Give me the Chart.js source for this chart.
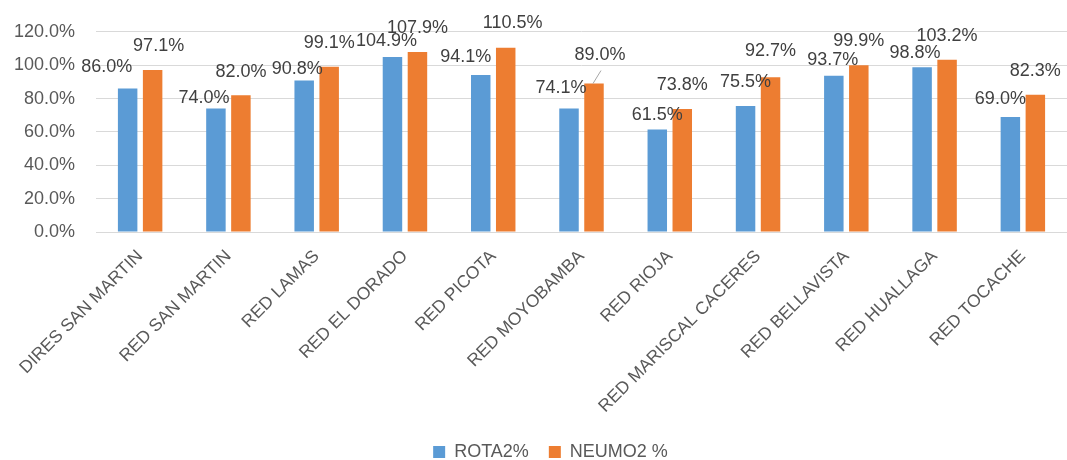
<!DOCTYPE html>
<html>
<head>
<meta charset="utf-8">
<title>ROTA2% / NEUMO2 %</title>
<script src="https://cdn.jsdelivr.net/npm/chart.js@4.4.1/dist/chart.umd.min.js"></script>
<style>
  html, body { margin: 0; padding: 0; background: #fff; }
  #wrap { width: 1067px; height: 460px; position: relative; }
</style>
</head>
<body>
<div id="wrap"><canvas id="chart"></canvas></div>
<script>
// categories and values
const redes = ['DIRES SAN MARTIN', 'RED SAN MARTIN', 'RED LAMAS', 'RED EL DORADO', 'RED PICOTA',
  'RED MOYOBAMBA', 'RED RIOJA', 'RED MARISCAL CACERES', 'RED BELLAVISTA', 'RED HUALLAGA', 'RED TOCACHE'];
const rota2 = [86.0, 74.0, 90.8, 104.9, 94.1, 74.1, 61.5, 75.5, 93.7, 98.8, 69.0];
const neumo2 = [97.1, 82.0, 99.1, 107.9, 110.5, 89.0, 73.8, 92.7, 99.9, 103.2, 82.3];
const yTicks = [0, 20, 40, 60, 80, 100, 120];

// hand-moved data labels (as in the original sheet), px from the default spot
const rotaShift = [[-21, 2], [-12, 13], [-7, 13], [-6, 8], [-15, 6], [-8, 4], [0, 10], [0, 0], [-1, 8], [-7, 10], [-10, 6]];
const neumoShift = [[6, 0], [0, 1], [0, 0], [0, 0], [7, -1], [6, -5], [0, 0], [0, -2], [0, 0], [0, 0], [0, 0]];
const neumoLeader = [5];

const textGray = '#595959';
const fontFamily = '"Liberation Sans", Arial, sans-serif';

// draws the value labels above the bars
const barLabels = {
  id: 'barLabels',
  afterDatasetsDraw(chart) {
    const ctx = chart.ctx;
    ctx.save();
    ctx.font = '18px ' + fontFamily;
    ctx.fillStyle = '#404040';
    ctx.textAlign = 'center';
    ctx.textBaseline = 'middle';
    chart.data.datasets.forEach((ds, di) => {
      const shifts = di === 0 ? rotaShift : neumoShift;
      chart.getDatasetMeta(di).data.forEach((bar, i) => {
        const x = bar.x + shifts[i][0];
        const y = bar.y - 24 + shifts[i][1];
        ctx.fillText(ds.data[i].toFixed(1) + '%', x, y);
        if (di === 1 && neumoLeader.includes(i)) {
          ctx.strokeStyle = '#a6a6a6';
          ctx.lineWidth = 1;
          ctx.beginPath();
          ctx.moveTo(x + 1, y + 16);
          ctx.lineTo(bar.x - 1, bar.y);
          ctx.stroke();
        }
      });
    });
    ctx.restore();
  }
};

// the legend sits a bit right of the canvas middle in the original
const legendNudge = {
  id: 'legendNudge',
  afterLayout(chart) {
    if (chart.legend) {
      chart.legend.left += 17;
      chart.legend.right += 17;
    }
  }
};

const ctx = document.getElementById('chart').getContext('2d');
const myChart = new Chart(ctx, {
  type: 'bar',
  data: {
    labels: redes,
    datasets: [{
      label: 'ROTA2%',
      data: rota2,
      backgroundColor: '#5B9BD5',
      categoryPercentage: 0.566,
      barPercentage: 0.78
    }, {
      label: 'NEUMO2 %',
      data: neumo2,
      backgroundColor: '#ED7D31',
      categoryPercentage: 0.566,
      barPercentage: 0.78
    }]
  },
  options: {
    responsive: true,
    maintainAspectRatio: false,
    animation: false,
    layout: { padding: { left: 0, right: 0, top: 24, bottom: -11 } },
    plugins: {
      tooltip: { enabled: false },
      legend: {
        position: 'bottom',
        labels: {
          boxWidth: 12,
          boxHeight: 12,
          padding: 20,
          color: textGray,
          font: { family: fontFamily, size: 18 }
        }
      }
    },
    scales: {
      x: {
        grid: { display: false },
        border: { color: '#d9d9d9', width: 1 },
        // long rotated names hang past the axis, as in the original
        afterFit: s => { s.paddingLeft = 0; s.paddingRight = 0; },
        ticks: {
          color: textGray,
          maxRotation: 45,
          minRotation: 45,
          padding: 6,
          font: { family: fontFamily, size: 17.5 }
        }
      },
      y: {
        min: 0,
        max: 120,
        afterBuildTicks: axis => { axis.ticks = yTicks.map(v => ({ value: v })); },
        afterFit: s => { s.width = 96; },
        grid: { color: '#d9d9d9', lineWidth: 1, drawTicks: false },
        border: { display: false },
        ticks: {
          color: textGray,
          padding: 21,
          font: { family: fontFamily, size: 18 },
          callback: value => value.toFixed(1) + '%'
        }
      }
    }
  },
  plugins: [barLabels, legendNudge]
});
</script>
</body>
</html>
